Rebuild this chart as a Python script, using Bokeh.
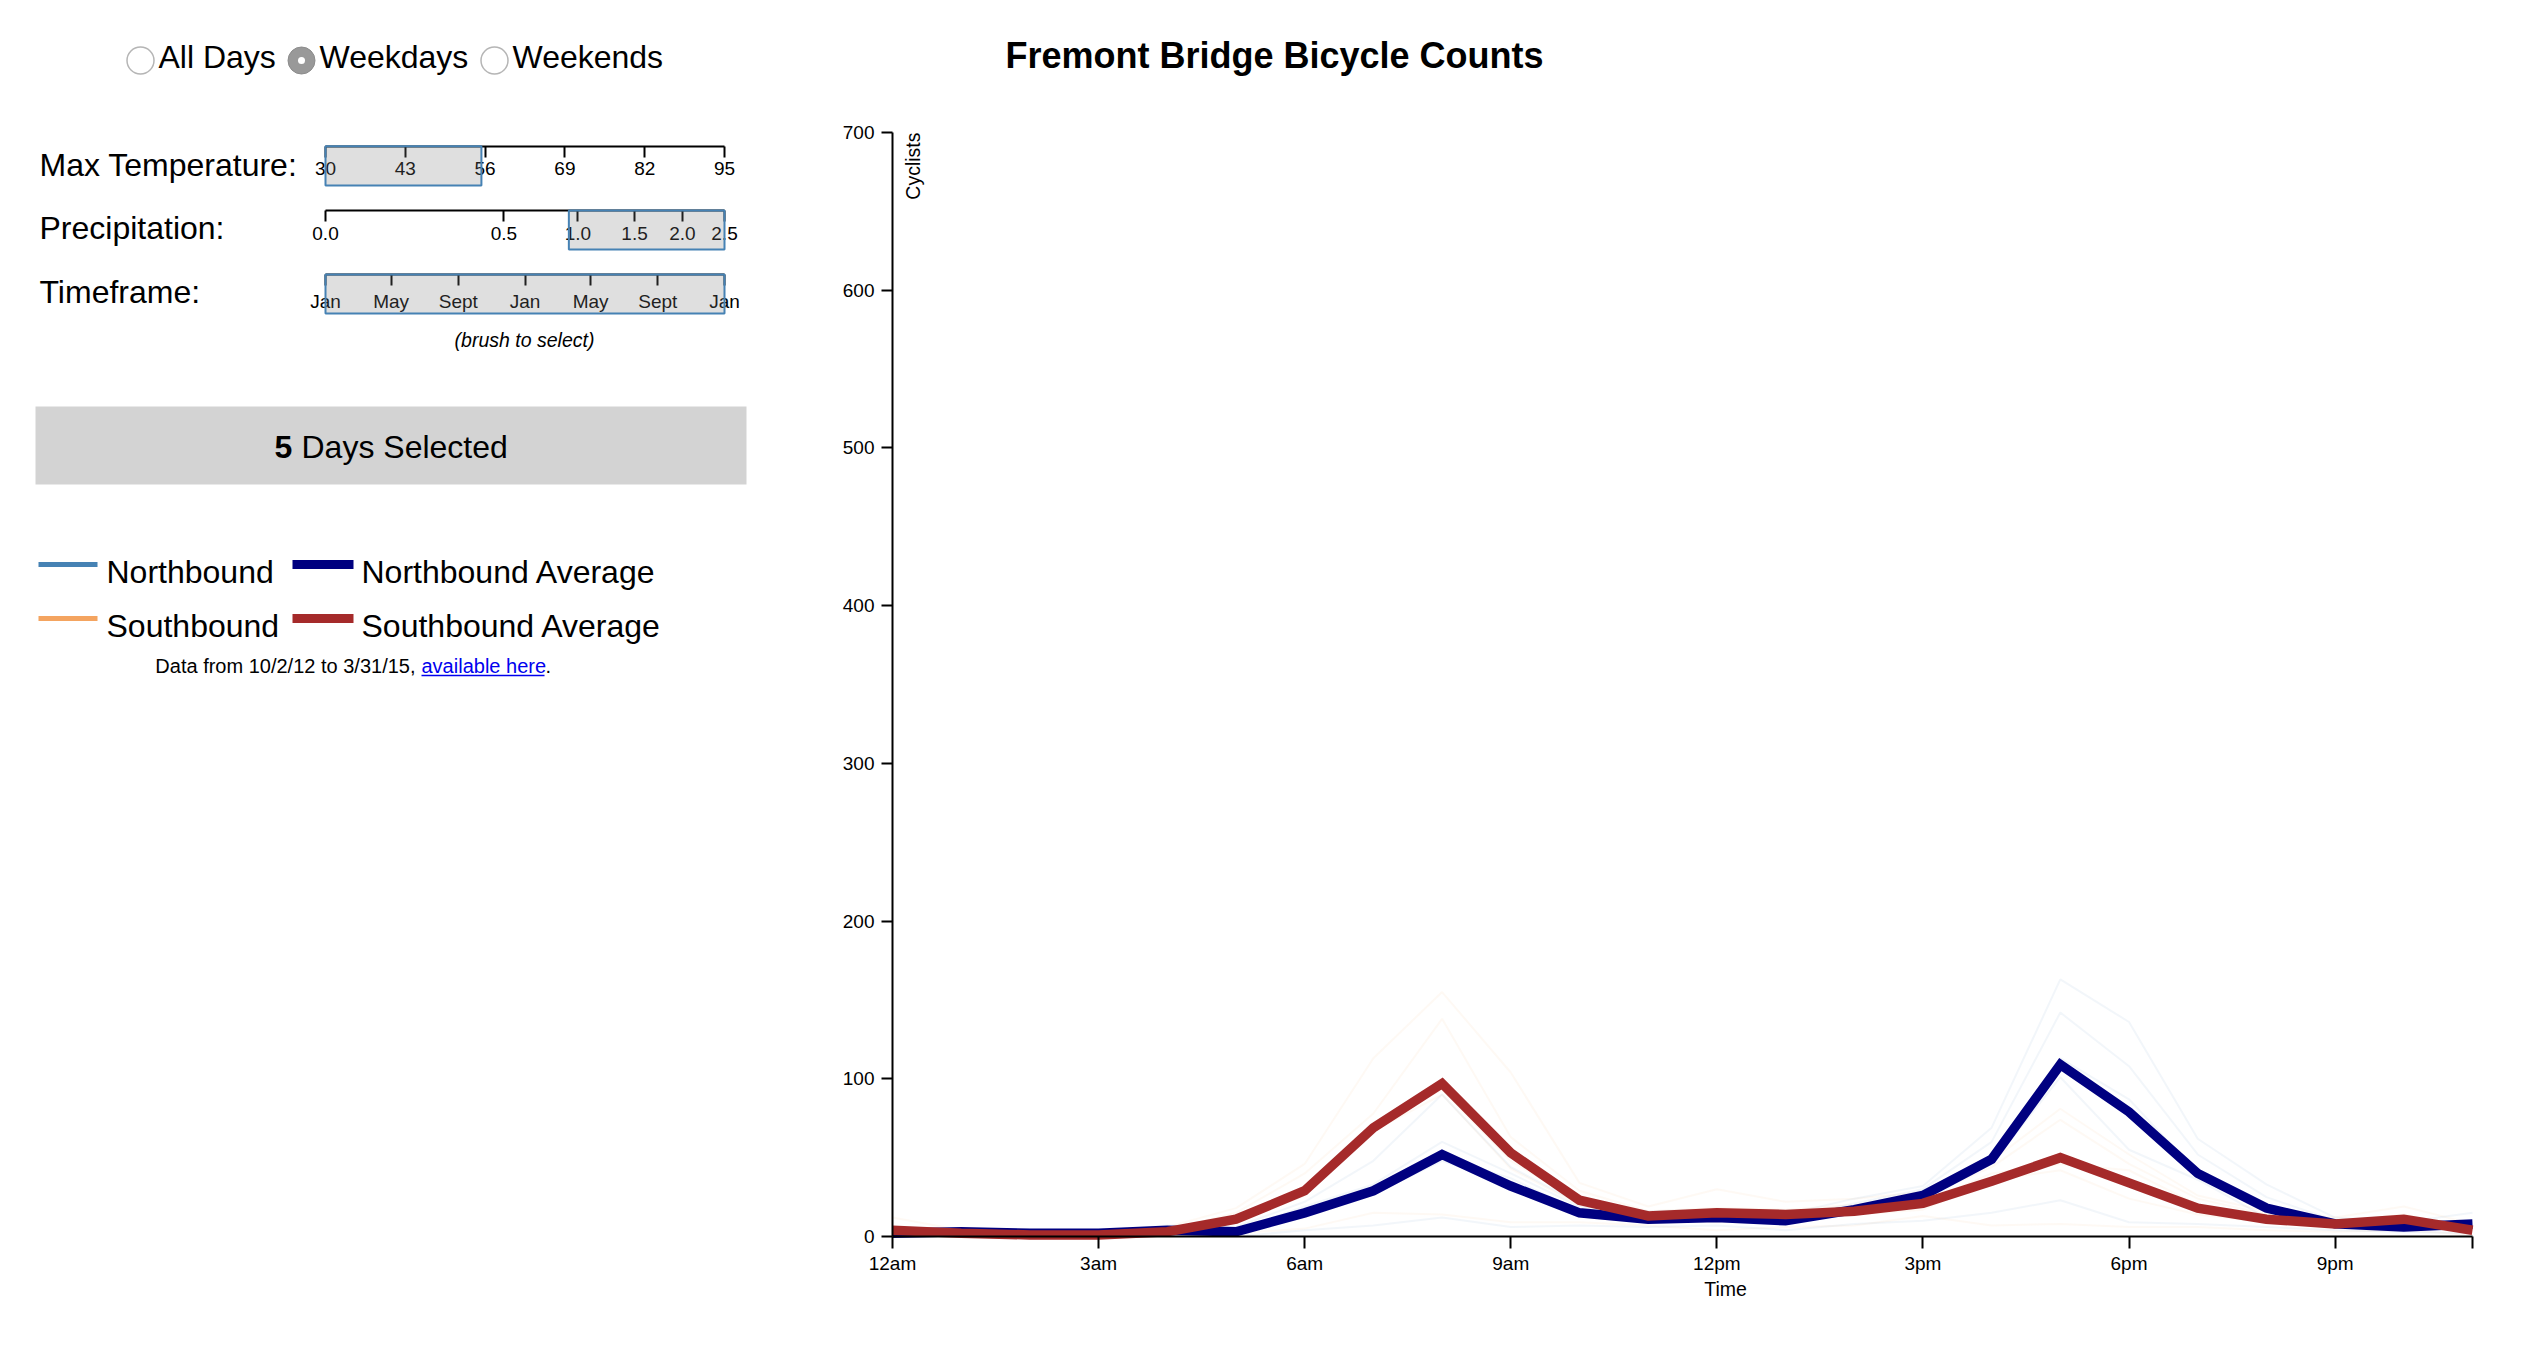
import numpy as np

from bokeh.core.properties import value
from bokeh.embed import file_html
from bokeh.models import FixedTicker, LinearAxis, Range1d
from bokeh.plotting import figure
from bokeh.resources import INLINE

# ---- data ---------------------------------------------------------------
hours = list(range(24))

north_avg = [2, 3, 2, 2, 4, 3, 15, 29, 52, 32, 15, 11, 12, 10, 17, 26, 49, 109, 79, 40, 18, 8, 6, 8]
south_avg = [4, 2, 1, 1, 3, 11, 29, 69, 97, 53, 23, 13, 15, 14, 16, 21, 35, 50, 34, 18, 11, 8, 11, 4]

# the five selected days (faint lines)
north_day1 = [4, 5, 4, 3, 7, 6, 22, 48, 90, 44, 21, 16, 17, 14, 24, 32, 69, 163, 136, 62, 33, 12, 9, 15]
north_day2 = [3, 4, 3, 3, 5, 4, 19, 33, 60, 40, 19, 14, 15, 12, 21, 30, 60, 142, 108, 52, 25, 10, 7, 9]
north_day3 = [2, 3, 2, 2, 4, 3, 17, 30, 50, 37, 16, 12, 12, 10, 18, 29, 50, 113, 87, 40, 16, 8, 6, 7]
north_day4 = [1, 2, 1, 1, 3, 2, 13, 27, 48, 33, 14, 9, 11, 8, 16, 27, 46, 101, 55, 36, 12, 6, 5, 5]
north_day5 = [0, 1, 0, 1, 1, 0, 4, 7, 12, 6, 7, 6, 7, 4, 8, 10, 15, 23, 9, 8, 6, 4, 3, 2]

south_day1 = [12, 4, 2, 2, 6, 18, 46, 113, 155, 104, 34, 19, 30, 22, 24, 28, 48, 81, 52, 26, 16, 12, 19, 8]
south_day2 = [4, 3, 2, 1, 4, 15, 40, 78, 138, 63, 29, 16, 18, 17, 20, 25, 44, 74, 46, 24, 14, 9, 14, 5]
south_day3 = [2, 2, 1, 1, 3, 11, 28, 72, 93, 48, 22, 14, 14, 15, 17, 21, 40, 46, 42, 20, 12, 8, 11, 4]
south_day4 = [1, 1, 0, 1, 2, 9, 26, 67, 90, 43, 20, 11, 9, 12, 14, 17, 36, 42, 24, 14, 9, 6, 8, 3]
south_day5 = [1, 0, 0, 0, 0, 2, 5, 15, 14, 9, 9, 7, 4, 6, 7, 13, 7, 8, 6, 6, 4, 3, 4, 1]

hour_ticks = [0, 3, 6, 9, 12, 15, 18, 21, 23]
hour_labels = ["12am", "3am", "6am", "9am", "12pm", "3pm", "6pm", "9pm", ""]
count_ticks = [0, 100, 200, 300, 400, 500, 600, 700]

temp_ticks = [30, 43, 56, 69, 82, 95]
temp_brush = [30, 55.4]

precip_ticks = [0.0, 0.5, 1.0, 1.5, 2.0, 2.5]
precip_labels = ["0.0", "0.5", "1.0", "1.5", "2.0", "2.5"]
precip_brush = [0.93, 2.5]

month_ticks = ["2013-01-01", "2013-05-01", "2013-09-01", "2014-01-01",
               "2014-05-01", "2014-09-01", "2015-01-01"]
month_labels = ["Jan", "May", "Sept", "Jan", "May", "Sept", "Jan"]
time_brush = ["2013-01-01", "2015-01-01"]

radio_labels = ["All Days", "Weekdays", "Weekends"]
radio_selected = "Weekdays"
filter_labels = ["Max Temperature:", "Precipitation:", "Timeframe:"]
days_selected = 5

FONT = "Liberation Sans"
W, H = 2520, 1360
X0, X1 = 0, W          # page x of the frame edges
YT, YB = 0, H          # page y of the frame edges


def x_range_for(lo, hi, p_lo, p_hi):
    k = (hi - lo) / (p_hi - p_lo)
    return Range1d(lo - (p_lo - X0) * k, hi + (X1 - p_hi) * k)


def base(y, size):
    # bokeh sets alphabetic text a little low; lift it onto the wanted baseline
    return y - 0.35 * size


def style_axis(ax, tick_out, standoff):
    ax.axis_line_width = 2
    ax.major_tick_line_width = 2
    ax.major_tick_out = tick_out
    ax.major_tick_in = 0
    ax.minor_tick_line_color = None
    ax.major_label_text_font = FONT
    ax.major_label_text_font_size = "19px"
    ax.major_label_text_color = "black"
    ax.major_label_standoff = standoff


# the frame is the whole page; default ranges are page pixels
p = figure(width=W, height=H, x_range=Range1d(X0, X1), y_range=Range1d(YB, YT),
           x_axis_type=None, y_axis_type=None, title=None,
           toolbar_location=None, output_backend="svg", min_border=0)
p.outline_line_color = None
p.background_fill_color = "white"
p.border_fill_color = "white"

ky = 700 / (1236 - 132)
p.extra_x_ranges = {
    "hours": x_range_for(0, 23, 892, 2472),
    "temp": x_range_for(temp_ticks[0], temp_ticks[-1], 325, 724),
    "precip": x_range_for(0, np.sqrt(precip_ticks[-1]), 325, 724),
    "months": x_range_for(0, 730, 325, 724),
}
p.extra_y_ranges = {"cyc": Range1d(-(YB - 1236) * ky, 700 + (132 - YT) * ky)}

# ---- main chart ----------------------------------------------------------
for d in [north_day1, north_day2, north_day3, north_day4, north_day5]:
    p.line(hours, d, x_range_name="hours", y_range_name="cyc",
           line_color="steelblue", line_alpha=0.07, line_width=2)
for d in [south_day1, south_day2, south_day3, south_day4, south_day5]:
    p.line(hours, d, x_range_name="hours", y_range_name="cyc",
           line_color="sandybrown", line_alpha=0.07, line_width=2)
p.line(hours, north_avg, x_range_name="hours", y_range_name="cyc",
       line_color="navy", line_width=9.5, line_join="miter")
p.line(hours, south_avg, x_range_name="hours", y_range_name="cyc",
       line_color="brown", line_width=9.5, line_join="miter")

xax = LinearAxis(x_range_name="hours", y_range_name="cyc", fixed_location=0,
                 bounds=(0, 23), ticker=FixedTicker(ticks=hour_ticks),
                 major_label_overrides=dict(zip(hour_ticks, hour_labels)))
style_axis(xax, 12, 4)
p.add_layout(xax, "below")

yax = LinearAxis(x_range_name="hours", y_range_name="cyc", fixed_location=0,
                 bounds=(0, 700), ticker=FixedTicker(ticks=count_ticks))
style_axis(yax, 11, 7)
p.add_layout(yax, "left")

p.text([1005], [base(68, 36)], text=["Fremont Bridge Bicycle Counts"], text_font=value(FONT),
       text_font_size="36px", text_font_style="bold", text_baseline="alphabetic")
p.text([901], [132], text=["Cyclists"], angle=np.pi / 2, text_font=value(FONT),
       text_font_size="19.5px", text_align="right", text_baseline="top")
p.text([1725], [base(1295, 19.5)], text=["Time"], text_font=value(FONT),
       text_font_size="19.5px", text_align="center", text_baseline="alphabetic")

# ---- filter panel ----------------------------------------------------------
radio_x = [140, 301, 494]
for x, lab in zip(radio_x, radio_labels):
    if lab == radio_selected:
        p.scatter([x], [60], size=27, fill_color="#999999", line_color="#8c8c8c")
        p.scatter([x], [60], size=7, fill_color="white", line_color=None)
    else:
        p.scatter([x], [60], size=27, fill_color="white", line_color="#b5b5b5", line_width=1.5)
p.text([x + 18 for x in radio_x], [base(68, 32)] * 3, text=radio_labels, text_font=value(FONT),
       text_font_size="32px", text_baseline="alphabetic")

p.text([39] * 3, [base(y, 32) for y in (176, 239, 303)], text=filter_labels,
       text_font=value(FONT), text_font_size="32px", text_baseline="alphabetic")

# temperature brush
tax = LinearAxis(x_range_name="temp", fixed_location=145.7,
                 bounds=(temp_ticks[0], temp_ticks[-1]), ticker=FixedTicker(ticks=temp_ticks))
style_axis(tax, 11, 5)
p.add_layout(tax, "below")
p.quad(left=[temp_brush[0]], right=[temp_brush[1]], top=[145.7], bottom=[185],
       x_range_name="temp", fill_color="gray", fill_alpha=0.25,
       line_color="steelblue", line_width=2, level="overlay")

# precipitation brush (square-root scale)
sq_ticks = list(np.sqrt(precip_ticks))
pax = LinearAxis(x_range_name="precip", fixed_location=210,
                 bounds=(0, sq_ticks[-1]), ticker=FixedTicker(ticks=sq_ticks),
                 major_label_overrides=dict(zip(sq_ticks, precip_labels)))
style_axis(pax, 11, 5)
p.add_layout(pax, "below")
p.quad(left=[np.sqrt(precip_brush[0])], right=[np.sqrt(precip_brush[1])], top=[210], bottom=[249],
       x_range_name="precip", fill_color="gray", fill_alpha=0.25,
       line_color="steelblue", line_width=2, level="overlay")

# timeframe brush, in days since the first tick
t0 = np.datetime64(month_ticks[0])
day_ticks = [int((np.datetime64(m) - t0).astype(int)) for m in month_ticks]
brush_days = [int((np.datetime64(m) - t0).astype(int)) for m in time_brush]
max_ = LinearAxis(x_range_name="months", fixed_location=274,
                  bounds=(day_ticks[0], day_ticks[-1]), ticker=FixedTicker(ticks=day_ticks),
                  major_label_overrides=dict(zip(day_ticks, month_labels)))
style_axis(max_, 11, 5)
p.add_layout(max_, "below")
p.quad(left=[brush_days[0]], right=[brush_days[1]], top=[274], bottom=[313],
       x_range_name="months", fill_color="gray", fill_alpha=0.25,
       line_color="steelblue", line_width=2, level="overlay")

p.text([524], [base(346, 19.5)], text=["(brush to select)"], text_font=value(FONT),
       text_font_size="19.5px", text_font_style="italic", text_align="center",
       text_baseline="alphabetic")

# selection count box
p.quad(left=[35], right=[746], top=[406], bottom=[484], fill_color="lightgray", line_color=None)
p.text([274], [base(458, 32)], text=[str(days_selected)], text_font=value(FONT),
       text_font_size="32px", text_font_style="bold", text_baseline="alphabetic")
p.text([301], [base(458, 32)], text=["Days Selected"], text_font=value(FONT),
       text_font_size="32px", text_baseline="alphabetic")

# legend
p.segment([38, 292, 38, 292], [564, 564, 618, 618], [97, 353, 97, 353], [564, 564, 618, 618],
          line_color=["steelblue", "navy", "sandybrown", "brown"], line_width=[5, 9, 5, 9])
p.text([106, 361, 106, 361], [base(y, 32) for y in (583, 583, 637, 637)],
       text=["Northbound", "Northbound Average", "Southbound", "Southbound Average"],
       text_font=value(FONT), text_font_size="32px", text_baseline="alphabetic")

# source note
p.text([415], [base(672, 20)], text=["Data from 10/2/12 to 3/31/15,"], text_font=value(FONT),
       text_font_size="20px", text_align="right", text_baseline="alphabetic")
p.text([421], [base(672, 20)], text=["available here"], text_font=value(FONT),
       text_color="#0000ee", text_font_size="20px", text_baseline="alphabetic")
p.segment([421], [675], [544], [675], line_color="#0000ee", line_width=1.5)
p.text([545], [base(672, 20)], text=["."], text_font=value(FONT),
       text_font_size="20px", text_baseline="alphabetic")

open("out.html", "w").write(file_html(p, INLINE))
